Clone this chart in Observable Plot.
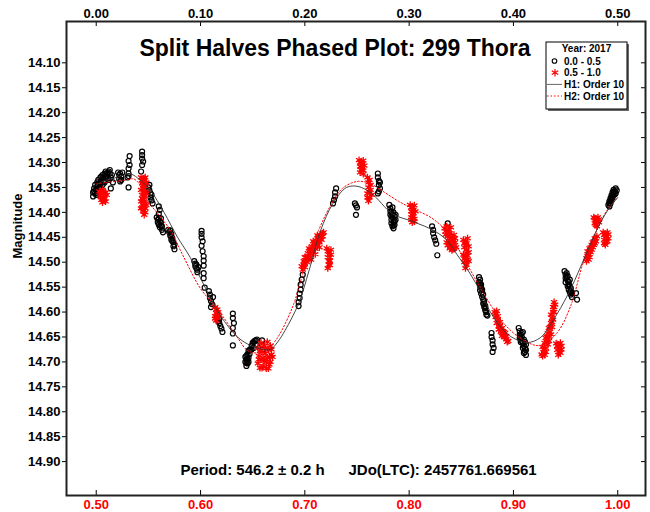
<!DOCTYPE html>
<html><head><meta charset="utf-8">
<script src="https://cdn.jsdelivr.net/npm/d3@7"></script>
<script src="https://cdn.jsdelivr.net/npm/@observablehq/plot@0.6"></script>
<style>body{margin:0;background:#fff} svg{display:block}</style>
</head><body><div id="chart"></div>
<script>
const titleText = "Split Halves Phased Plot: 299 Thora";
const periodText = "Period: 546.2 \u00b1 0.2 h";
const epochText = "JDo(LTC): 2457761.669561";
const yLabel = "Magnitude";
const legendTitle = "Year: 2017";
const legendLabels = ["0.0 - 0.5", "0.5 - 1.0", "H1: Order 10", "H2: Order 10"];

const xTicks = [0.0, 0.1, 0.2, 0.3, 0.4, 0.5];
const yTicks = [14.10,14.15,14.20,14.25,14.30,14.35,14.40,14.45,14.50,14.55,14.60,14.65,14.70,14.75,14.80,14.85,14.90];

// first half of the data (phase 0.0 - 0.5): [phase, magnitude]
const firstHalf = [
 [-0.003,14.368],[-0.003,14.360],[-0.002,14.352],[-0.001,14.362],[-0.001,14.345],[0.000,14.355],[0.001,14.340],[0.001,14.348],
 [0.002,14.335],[0.002,14.358],[0.003,14.342],[0.004,14.330],[0.004,14.350],[0.005,14.337],[0.006,14.325],[0.006,14.345],
 [0.007,14.330],[0.008,14.322],[0.008,14.340],[0.009,14.318],[0.010,14.328],[0.011,14.320],[0.012,14.335],[0.013,14.322],
 [0.014,14.330],[0.015,14.325],[0.016,14.340],[0.013,14.315],[0.014,14.352],
 [0.000,14.365],[0.002,14.345],[0.003,14.352],[0.005,14.328],[0.007,14.338],[0.009,14.330],[0.010,14.322],[0.011,14.332],
 [0.012,14.318],[0.003,14.362],[-0.002,14.358],[0.001,14.356],
 [0.021,14.320],[0.022,14.325],[0.022,14.333],[0.023,14.322],[0.023,14.338],[0.024,14.328],[0.025,14.320],[0.024,14.335],
 [0.030,14.330],[0.031,14.322],[0.031,14.312],[0.032,14.305],[0.031,14.297],[0.032,14.287],[0.031,14.327],[0.031,14.350],
 [0.044,14.278],[0.044,14.285],[0.044,14.292],[0.045,14.298],[0.044,14.305],[0.043,14.318],
 [0.050,14.350],[0.051,14.356],[0.052,14.362],[0.052,14.370],[0.053,14.376],[0.054,14.382],[0.053,14.365],[0.051,14.345],
 [0.060,14.388],[0.061,14.395],[0.060,14.403],
 [0.058,14.410],[0.059,14.415],[0.059,14.420],[0.060,14.425],[0.061,14.418],[0.061,14.430],[0.062,14.426],[0.063,14.435],
 [0.064,14.440],[0.062,14.412],[0.060,14.412],[0.062,14.420],[0.063,14.428],
 [0.069,14.435],[0.070,14.440],[0.071,14.447],[0.072,14.443],[0.072,14.455],[0.073,14.452],[0.074,14.460],[0.074,14.468],
 [0.075,14.474],[0.071,14.436],[0.072,14.448],[0.073,14.458],[0.075,14.465],
 [0.101,14.437],[0.101,14.443],[0.101,14.450],[0.102,14.458],[0.101,14.467],[0.102,14.478],[0.103,14.488],[0.103,14.497],
 [0.103,14.507],[0.103,14.522],[0.103,14.532],[0.104,14.551],
 [0.094,14.498],[0.095,14.503],[0.095,14.508],[0.096,14.512],[0.096,14.505],[0.097,14.515],[0.097,14.520],[0.098,14.510],
 [0.108,14.558],[0.109,14.565],[0.109,14.572],[0.110,14.578],[0.111,14.584],[0.110,14.590],[0.112,14.570],
 [0.116,14.612],[0.117,14.618],[0.118,14.622],[0.119,14.628],[0.120,14.633],[0.121,14.640],[0.118,14.614],
 [0.131,14.603],[0.131,14.612],[0.132,14.622],[0.131,14.632],[0.131,14.643],[0.131,14.667],
 [0.143,14.690],[0.143,14.700],[0.144,14.708],[0.144,14.695],[0.145,14.685],[0.145,14.703],[0.146,14.678],[0.146,14.692],
 [0.147,14.684],[0.148,14.675],[0.149,14.668],[0.150,14.662],[0.151,14.672],[0.152,14.658],[0.153,14.665],[0.154,14.655],
 [0.144,14.688],[0.145,14.695],[0.146,14.700],[0.147,14.676],[0.149,14.675],[0.151,14.660],[0.153,14.657],[0.144,14.702],
 [0.159,14.657],[0.159,14.666],[0.160,14.675],
 [0.194,14.588],[0.194,14.580],[0.195,14.572],[0.195,14.563],[0.196,14.555],[0.196,14.545],[0.197,14.535],[0.198,14.525],
 [0.227,14.382],[0.228,14.375],[0.229,14.368],[0.229,14.360],[0.230,14.352],
 [0.248,14.382],[0.249,14.386],[0.250,14.390],[0.249,14.405],
 [0.270,14.322],[0.270,14.330],[0.271,14.337],[0.271,14.345],[0.272,14.352],[0.271,14.358],[0.270,14.362],[0.272,14.340],
 [0.281,14.385],[0.282,14.392],[0.283,14.398],[0.282,14.405],[0.284,14.410],[0.283,14.415],[0.285,14.420],[0.284,14.428],
 [0.286,14.425],[0.285,14.400],[0.286,14.408],[0.287,14.415],[0.284,14.390],[0.283,14.422],[0.285,14.432],
 [0.282,14.398],[0.284,14.404],[0.286,14.418],[0.283,14.408],[0.285,14.426],[0.287,14.405],
 [0.322,14.428],[0.323,14.435],[0.323,14.442],[0.324,14.450],[0.325,14.456],[0.326,14.463],[0.327,14.486],
 [0.337,14.422],[0.336,14.430],
 [0.367,14.530],[0.367,14.540],[0.368,14.548],[0.368,14.556],[0.369,14.552],[0.369,14.563],[0.370,14.570],[0.370,14.560],
 [0.371,14.575],[0.371,14.583],[0.372,14.578],[0.372,14.590],[0.373,14.588],[0.373,14.597],[0.374,14.600],[0.375,14.607],
 [0.369,14.545],[0.368,14.535],[0.370,14.555],[0.371,14.565],[0.372,14.584],[0.373,14.592],[0.374,14.605],[0.368,14.542],
 [0.379,14.642],[0.379,14.650],[0.380,14.657],[0.380,14.665],[0.381,14.672],[0.380,14.680],
 [0.405,14.632],[0.406,14.638],[0.407,14.645],[0.406,14.652],[0.408,14.650],[0.408,14.658],[0.409,14.663],[0.410,14.655],
 [0.410,14.668],[0.411,14.673],[0.409,14.640],[0.411,14.680],[0.412,14.686],[0.412,14.665],[0.407,14.660],
 [0.406,14.645],[0.408,14.642],[0.409,14.672],[0.411,14.660],[0.412,14.676],[0.410,14.682],[0.407,14.653],
 [0.449,14.518],[0.450,14.525],[0.451,14.530],[0.450,14.540],[0.452,14.537],[0.452,14.548],[0.453,14.545],[0.453,14.555],
 [0.454,14.560],[0.455,14.552],[0.455,14.565],[0.456,14.570],[0.451,14.522],[0.454,14.535],
 [0.450,14.532],[0.452,14.528],[0.453,14.540],[0.454,14.548],[0.455,14.558],[0.456,14.562],
 [0.460,14.562],[0.461,14.575],
 [0.491,14.385],[0.492,14.378],[0.492,14.388],[0.493,14.372],[0.493,14.382],[0.494,14.366],[0.494,14.376],[0.495,14.360],
 [0.495,14.370],[0.496,14.355],[0.496,14.365],[0.497,14.358],[0.498,14.352],[0.498,14.362],[0.499,14.356],
 [0.492,14.382],[0.494,14.371],[0.495,14.365],[0.496,14.360],[0.497,14.364],[0.493,14.377]
];

// second half of the data (phase 0.5 - 1.0), plotted at phase - 0.5: [phase, magnitude]
const secondHalf = [
 [0.003,14.358],[0.004,14.368],[0.005,14.362],[0.005,14.375],[0.006,14.355],[0.007,14.370],[0.008,14.362],[0.009,14.378],
 [0.010,14.365],[0.006,14.380],[0.004,14.360],[0.007,14.360],[0.008,14.372],[0.005,14.370],[0.009,14.360],
 [0.043,14.330],[0.045,14.335],[0.047,14.330],[0.044,14.342],[0.046,14.345],[0.048,14.340],[0.043,14.355],[0.045,14.352],
 [0.047,14.358],[0.044,14.365],[0.046,14.368],[0.048,14.362],[0.043,14.378],[0.045,14.375],[0.047,14.382],[0.044,14.390],
 [0.046,14.388],[0.048,14.385],[0.045,14.398],[0.047,14.400],[0.046,14.405],
 [0.044,14.335],[0.046,14.332],[0.045,14.345],[0.047,14.348],[0.044,14.372],[0.046,14.378],[0.045,14.385],[0.047,14.392],
 [0.046,14.360],[0.043,14.392],
 [0.114,14.590],[0.116,14.595],[0.115,14.602],[0.117,14.600],[0.114,14.608],[0.116,14.612],[0.118,14.608],[0.115,14.617],
 [0.115,14.595],[0.117,14.605],[0.116,14.603],[0.114,14.613],
 [0.155,14.672],[0.156,14.688],[0.155,14.703],[0.157,14.712],[0.158,14.662],[0.159,14.680],[0.158,14.695],[0.160,14.708],
 [0.161,14.668],[0.162,14.683],[0.161,14.698],[0.163,14.713],[0.164,14.660],[0.165,14.676],[0.164,14.692],[0.166,14.705],
 [0.167,14.668],[0.168,14.685],[0.167,14.700],[0.169,14.690],
 [0.156,14.695],[0.160,14.692],[0.163,14.700],[0.166,14.690],[0.157,14.678],[0.162,14.672],[0.168,14.675],[0.159,14.712],[0.165,14.713],
 [0.197,14.508],[0.199,14.498],[0.200,14.510],[0.201,14.490],[0.202,14.500],[0.203,14.482],[0.204,14.493],[0.205,14.475],
 [0.206,14.486],[0.207,14.468],[0.208,14.480],[0.209,14.462],[0.210,14.473],[0.211,14.456],[0.212,14.467],[0.213,14.450],
 [0.214,14.460],[0.215,14.445],[0.216,14.455],[0.217,14.442],[0.198,14.515],[0.200,14.502],
 [0.199,14.505],[0.201,14.497],[0.203,14.490],[0.205,14.483],[0.207,14.475],[0.209,14.470],[0.211,14.463],[0.213,14.458],
 [0.215,14.452],[0.217,14.448],[0.218,14.440],[0.212,14.446],[0.208,14.458],[0.204,14.472],[0.200,14.490],[0.206,14.495],
 [0.210,14.484],[0.214,14.470],
 [0.221,14.472],[0.223,14.480],[0.222,14.490],[0.224,14.497],[0.223,14.505],[0.225,14.485],[0.222,14.512],
 [0.222,14.478],[0.224,14.490],[0.223,14.498],[0.224,14.506],[0.225,14.475],
 [0.252,14.295],[0.254,14.300],[0.256,14.296],[0.253,14.308],[0.255,14.312],[0.257,14.306],[0.253,14.320],[0.256,14.323],
 [0.253,14.300],[0.255,14.304],[0.254,14.315],[0.256,14.316],
 [0.260,14.330],[0.262,14.335],[0.261,14.350],[0.263,14.355],[0.260,14.362],[0.262,14.370],[0.264,14.365],[0.261,14.377],
 [0.261,14.340],[0.263,14.345],[0.262,14.360],[0.260,14.370],
 [0.301,14.385],[0.303,14.390],[0.305,14.386],[0.302,14.398],[0.304,14.402],[0.306,14.398],[0.302,14.410],[0.305,14.413],
 [0.303,14.420],[0.304,14.408],[0.302,14.390],[0.304,14.395],[0.303,14.405],[0.305,14.418],[0.302,14.415],
 [0.334,14.432],[0.336,14.428],[0.338,14.435],[0.340,14.430],[0.335,14.445],[0.337,14.448],[0.339,14.442],[0.341,14.450],
 [0.343,14.445],[0.336,14.460],[0.338,14.462],[0.340,14.458],[0.342,14.465],[0.344,14.460],[0.339,14.472],[0.341,14.476],
 [0.343,14.472],[0.345,14.470],[0.335,14.438],[0.337,14.440],[0.339,14.452],[0.342,14.455],[0.344,14.452],[0.337,14.466],
 [0.340,14.468],[0.342,14.474],
 [0.352,14.455],[0.354,14.460],[0.356,14.452],[0.353,14.470],[0.355,14.475],[0.357,14.468],[0.352,14.485],[0.354,14.490],
 [0.356,14.487],[0.353,14.500],[0.355,14.505],[0.357,14.498],[0.354,14.512],
 [0.353,14.462],[0.355,14.482],[0.357,14.480],[0.356,14.495],[0.353,14.493],[0.355,14.462],
 [0.382,14.600],[0.384,14.598],[0.383,14.610],[0.385,14.615],[0.384,14.622],[0.386,14.628],[0.387,14.620],[0.386,14.635],
 [0.388,14.640],[0.389,14.632],[0.390,14.645],[0.391,14.650],[0.392,14.642],[0.393,14.655],[0.394,14.660],[0.389,14.648],
 [0.383,14.603],[0.385,14.608],[0.387,14.628],[0.388,14.633],[0.390,14.638],[0.392,14.650],[0.393,14.648],[0.391,14.640],[0.395,14.658],
 [0.427,14.685],[0.429,14.680],[0.428,14.670],[0.430,14.662],[0.431,14.672],[0.431,14.652],[0.432,14.660],[0.433,14.642],
 [0.434,14.650],[0.434,14.632],[0.435,14.640],[0.436,14.622],[0.437,14.630],[0.437,14.612],[0.438,14.600],[0.439,14.590],
 [0.439,14.580],[0.436,14.605],[0.428,14.688],[0.430,14.686],
 [0.429,14.675],[0.432,14.650],[0.433,14.665],[0.435,14.630],[0.436,14.645],[0.438,14.615],[0.438,14.590],[0.440,14.585],
 [0.437,14.620],[0.431,14.680],[0.434,14.658],[0.439,14.600],
 [0.441,14.663],[0.443,14.668],[0.445,14.662],[0.442,14.676],[0.444,14.680],[0.446,14.675],[0.443,14.686],
 [0.442,14.668],[0.444,14.672],[0.446,14.668],[0.445,14.682],
 [0.470,14.492],[0.472,14.485],[0.471,14.478],[0.473,14.472],[0.474,14.480],[0.475,14.465],[0.476,14.470],[0.477,14.458],
 [0.478,14.462],[0.479,14.452],[0.480,14.448],[0.472,14.495],
 [0.471,14.488],[0.473,14.478],[0.474,14.470],[0.476,14.460],[0.478,14.452],[0.470,14.498],[0.473,14.490],[0.475,14.475],
 [0.477,14.465],[0.479,14.458],
 [0.477,14.410],[0.479,14.415],[0.481,14.410],[0.478,14.422],[0.480,14.428],[0.482,14.420],
 [0.478,14.412],[0.480,14.418],[0.482,14.414],[0.479,14.425],
 [0.486,14.440],[0.488,14.445],[0.490,14.440],[0.487,14.455],[0.489,14.460],[0.491,14.452],[0.488,14.465],
 [0.487,14.445],[0.489,14.448],[0.490,14.458],[0.487,14.462],[0.491,14.444]
];

// Fourier fit H1 (first half)
const fitH1 = [
 [0.000,14.345],[0.008,14.336],[0.015,14.333],[0.025,14.326],[0.033,14.323],[0.042,14.335],[0.052,14.356],[0.065,14.400],
 [0.078,14.450],[0.090,14.490],[0.105,14.553],[0.119,14.607],[0.136,14.651],[0.148,14.667],[0.160,14.675],[0.167,14.675],
 [0.174,14.660],[0.181,14.637],[0.194,14.583],[0.204,14.517],[0.215,14.437],[0.227,14.382],[0.240,14.350],[0.251,14.348],
 [0.264,14.362],[0.284,14.403],[0.303,14.418],[0.325,14.438],[0.338,14.460],[0.346,14.485],[0.356,14.515],[0.366,14.550],
 [0.381,14.611],[0.396,14.647],[0.413,14.661],[0.426,14.651],[0.442,14.603],[0.455,14.553],[0.469,14.487],[0.480,14.435],
 [0.490,14.397],[0.500,14.370]
];
// Fourier fit H2 (second half)
const fitH2 = [
 [0.000,14.343],[0.010,14.340],[0.026,14.336],[0.036,14.333],[0.042,14.345],[0.049,14.376],[0.060,14.405],[0.071,14.436],
 [0.084,14.490],[0.100,14.553],[0.116,14.593],[0.136,14.653],[0.145,14.677],[0.155,14.682],[0.163,14.675],[0.172,14.657],
 [0.188,14.591],[0.199,14.517],[0.213,14.437],[0.225,14.385],[0.236,14.352],[0.250,14.338],[0.262,14.342],[0.275,14.358],
 [0.290,14.378],[0.303,14.392],[0.322,14.412],[0.338,14.443],[0.356,14.506],[0.371,14.561],[0.390,14.621],[0.410,14.657],
 [0.426,14.667],[0.442,14.641],[0.455,14.587],[0.467,14.500],[0.480,14.435],[0.490,14.395],[0.500,14.370]
];

const font = "'Liberation Sans', Arial, Helvetica, sans-serif";
const px = d => d[0], py = d => d[1];

const plot = Plot.plot({
  width: 650, height: 512,
  marginTop: 21, marginRight: 5, marginBottom: 17, marginLeft: 66,
  style: {fontFamily: font, fontWeight: "bold", background: "#fff", color: "black"},
  x: {domain: [-0.0285, 0.5266]},
  y: {domain: [14.0171, 14.968], reverse: true},
  marks: [
    Plot.dot(firstHalf, {x: px, y: py, r: 2.5, stroke: "black", strokeWidth: 1.2, fill: "none"}),
    Plot.dot(secondHalf, {x: px, y: py, symbol: "asterisk", r: 3.4, stroke: "red", strokeWidth: 1.3}),
    Plot.line(fitH2, {x: px, y: py, stroke: "red", strokeWidth: 1, strokeDasharray: "1.5,2", curve: "catmull-rom"}),
    Plot.line(fitH1, {x: px, y: py, stroke: "#333", strokeWidth: 0.9, curve: "catmull-rom"}),
    Plot.axisY(yTicks, {anchor: "left", tickSize: 4, tickPadding: 2, tickFormat: d => d.toFixed(2), fontSize: 13, label: null}),
    Plot.axisY(yTicks, {anchor: "right", tickSize: -5, fill: "none", label: null}),
    Plot.axisX(xTicks, {anchor: "top", tickSize: -4, fill: "none", label: null}),
    Plot.axisX(xTicks, {anchor: "bottom", tickSize: -5, fill: "none", label: null}),
    Plot.axisX(xTicks, {anchor: "top", tickSize: 0, tickPadding: 4, tickFormat: d => d.toFixed(2), fontSize: 13, label: null}),
    Plot.axisX(xTicks, {anchor: "bottom", tickSize: 0, tickPadding: 4, tickFormat: d => (d + 0.5).toFixed(2), fill: "red", fontSize: 13, label: null}),
    Plot.frame({stroke: "#222", strokeWidth: 2}),
    Plot.text([titleText], {frameAnchor: "top", dx: -21, dy: 27, fontSize: 23, fontWeight: "bold", lineAnchor: "middle"}),
    Plot.text([periodText], {frameAnchor: "bottom-left", dx: 114, dy: -25, fontSize: 15, fontWeight: "bold", textAnchor: "start", lineAnchor: "middle"}),
    Plot.text([epochText], {frameAnchor: "bottom-left", dx: 282, dy: -25, fontSize: 15, fontWeight: "bold", textAnchor: "start", lineAnchor: "middle"}),
    Plot.text([yLabel], {frameAnchor: "left", dx: -49, rotate: -90, fontSize: 13, fontWeight: "bold", lineAnchor: "middle"})
  ]
});

// legend box
const svg = d3.select(plot);
const lg = svg.append("g").attr("font-family", font).attr("font-weight", "bold").attr("font-size", 10).attr("text-anchor", "start");
const bx = 546, by = 42, bw = 81, bh = 67;
lg.append("rect").attr("x", bx + 2).attr("y", by + 2).attr("width", bw).attr("height", bh).attr("fill", "#666");
lg.append("rect").attr("x", bx).attr("y", by).attr("width", bw).attr("height", bh).attr("fill", "white").attr("stroke", "black").attr("stroke-width", 1);
lg.append("text").attr("x", bx + bw / 2).attr("y", 52).attr("text-anchor", "middle").text(legendTitle);
const rows = [64.6, 76.3, 88, 99.6];
legendLabels.forEach((t, i) => lg.append("text").attr("x", 564).attr("y", rows[i]).attr("text-anchor", "start").text(t));
lg.append("circle").attr("cx", 554.5).attr("cy", rows[0] - 3.6).attr("r", 2.3).attr("fill", "none").attr("stroke", "black").attr("stroke-width", 1.1);
lg.append("path").attr("transform", `translate(555,${rows[1] - 3.6})`).attr("d", d3.symbol(d3.symbolAsterisk, 40)()).attr("stroke", "red").attr("stroke-width", 1.2).attr("fill", "none");
lg.append("line").attr("x1", 547).attr("x2", 562).attr("y1", rows[2] - 3.6).attr("y2", rows[2] - 3.6).attr("stroke", "#666").attr("stroke-width", 1);
lg.append("line").attr("x1", 547).attr("x2", 562).attr("y1", rows[3] - 3.6).attr("y2", rows[3] - 3.6).attr("stroke", "red").attr("stroke-width", 1).attr("stroke-dasharray", "1.5,2");

document.getElementById("chart").appendChild(plot);
</script>
</body></html>
